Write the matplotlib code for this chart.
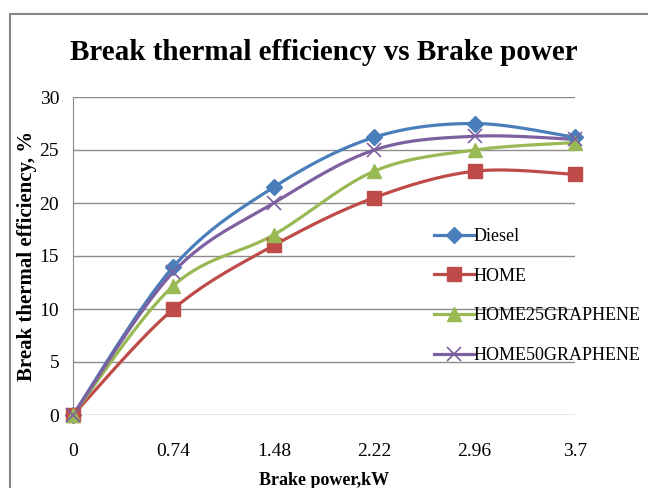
import matplotlib.pyplot as plt
import numpy as np
from matplotlib.patches import Rectangle

power = [0, 0.74, 1.48, 2.22, 2.96, 3.7]
tick_labels = ['0', '0.74', '1.48', '2.22', '2.96', '3.7']
diesel = [0, 14.0, 21.5, 26.2, 27.5, 26.2]
home = [0, 10.0, 16.0, 20.5, 23.0, 22.7]
home25 = [0, 12.2, 17.0, 23.0, 25.0, 25.7]
home50 = [0, 13.5, 20.0, 25.0, 26.3, 26.0]

series = [
    ('Diesel', diesel, '#4A7EBB', 'D', 8),
    ('HOME', home, '#BE4B48', 's', 10),
    ('HOME25GRAPHENE', home25, '#98B954', '^', 10),
    ('HOME50GRAPHENE', home50, '#7D60A0', 'x', 10),
]


def smooth(x, y, n=30):
    # Catmull-Rom style bezier, like Excel's smoothed line
    x = np.asarray(x, float)
    y = np.asarray(y, float)
    px = np.concatenate([[x[0]], x, [x[-1]]])
    py = np.concatenate([[y[0]], y, [y[-1]]])
    xs, ys = [], []
    t = np.linspace(0, 1, n)
    for i in range(1, len(px) - 2):
        p0 = np.array([px[i], py[i]])
        p3 = np.array([px[i + 1], py[i + 1]])
        p1 = p0 + (np.array([px[i + 1], py[i + 1]]) - np.array([px[i - 1], py[i - 1]])) / 6
        p2 = p3 - (np.array([px[i + 2], py[i + 2]]) - np.array([px[i], py[i]])) / 6
        b = ((1 - t) ** 3)[:, None] * p0 + (3 * (1 - t) ** 2 * t)[:, None] * p1 \
            + (3 * (1 - t) * t ** 2)[:, None] * p2 + (t ** 3)[:, None] * p3
        xs.append(b[:, 0])
        ys.append(b[:, 1])
    return np.concatenate(xs), np.concatenate(ys)


serif = 'Liberation Serif'
fig = plt.figure(figsize=(6.48, 4.88), dpi=100)
fig.patches.append(Rectangle((10 / 648, -0.1), 1.2, 1.1 - 14 / 488,
                             transform=fig.transFigure, fill=False,
                             edgecolor='#888888', linewidth=1.5))
ax = fig.add_axes([73 / 648, 1 - 415 / 488, 502 / 648, 318 / 488])

for label, vals, color, marker, ms in series:
    sx, sy = smooth(power, vals)
    ax.plot(sx, sy, color=color, linewidth=2.3, clip_on=False, zorder=3)
    kw = dict(markeredgewidth=1.2) if marker == 'x' else dict(markeredgecolor=color)
    ax.plot(power, vals, linestyle='none', marker=marker, markersize=ms, color=color,
            clip_on=False, zorder=4, **kw)
    ax.plot([], [], color=color, linewidth=2.3, marker=marker, markersize=ms,
            label=label, **kw)

ax.set_xlim(0, 3.7)
ax.set_ylim(0, 30)
ax.set_xticks(power)
ax.set_xticklabels(tick_labels)
ax.set_yticks(range(0, 31, 5))
ax.grid(axis='y', color='#8c8c8c', linewidth=1)
ax.set_axisbelow(True)
for s in ['top', 'right', 'bottom']:
    ax.spines[s].set_visible(False)
ax.spines['left'].set_color('#8c8c8c')
ax.tick_params(length=0, labelsize=14, pad=10)
ax.tick_params(axis='x', pad=20)
for lab in ax.get_xticklabels() + ax.get_yticklabels():
    lab.set_fontfamily(serif)

ax.set_ylabel('Break thermal efficiency, %', fontfamily=serif, fontweight='bold',
              fontsize=15, labelpad=2)
ax.set_xlabel('Brake power,kW', fontfamily=serif, fontweight='bold', fontsize=13, labelpad=9)
fig.text(0.5, 1 - 52 / 488, 'Break thermal efficiency vs Brake power', ha='center',
         va='center', fontfamily=serif, fontweight='bold', fontsize=21)

ax.legend(loc='upper left', bbox_to_anchor=(418 / 648, 1 - 212 / 488),
          bbox_transform=fig.transFigure, frameon=False, prop={'family': serif, 'size': 13},
          handlelength=2.2, handletextpad=0.0, labelspacing=1.25)

fig.savefig('out.png', dpi=100)
